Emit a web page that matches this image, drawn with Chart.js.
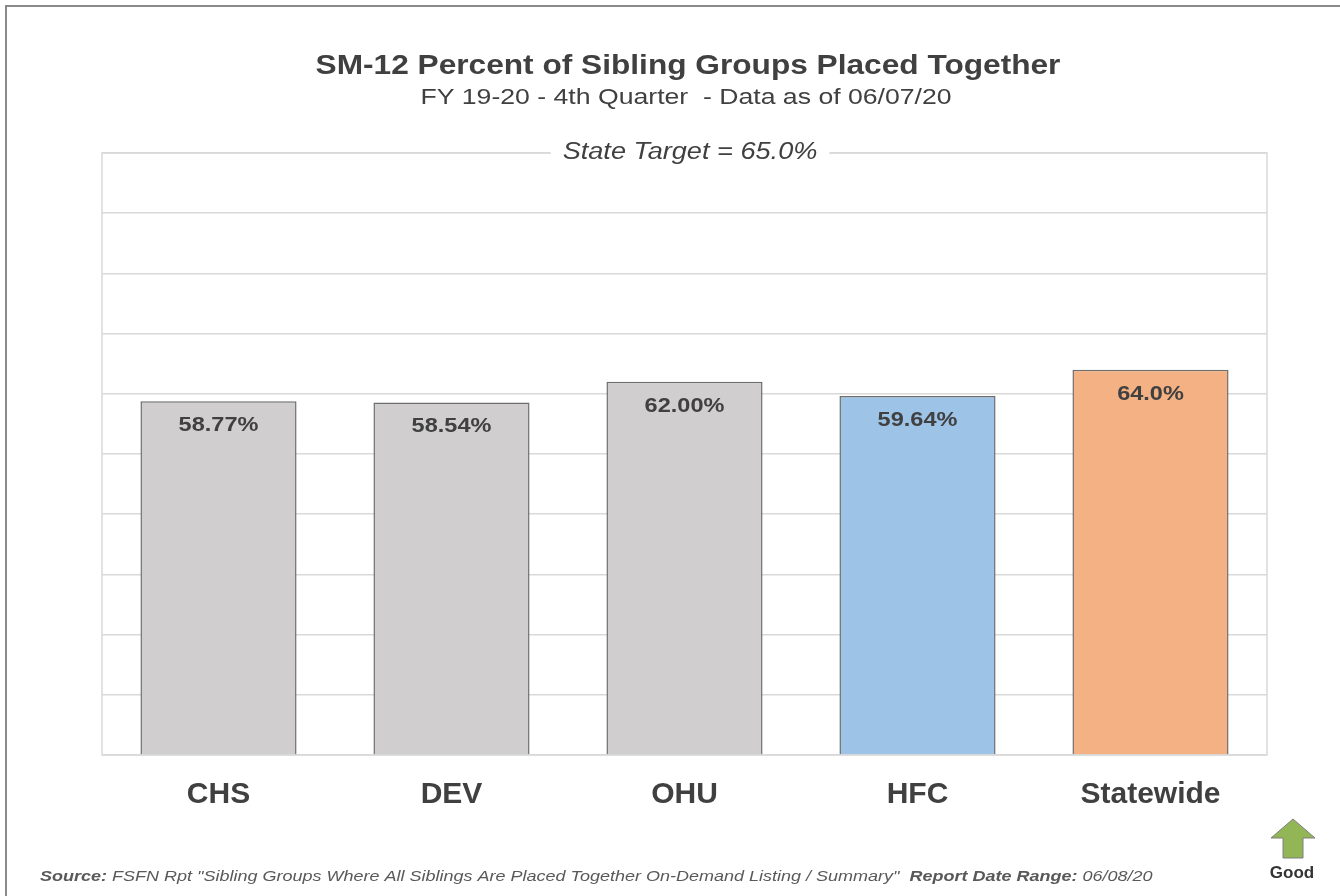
<!DOCTYPE html>
<html lang="en">
<head>
<meta charset="UTF-8">
<title>SM-12 Percent of Sibling Groups Placed Together</title>
<script src="https://cdn.jsdelivr.net/npm/chart.js"></script>
<style>
    html, body { margin: 0; padding: 0; background: #fff; }
    #wrap { position: relative; width: 1340px; height: 896px; }
    #frame { position: absolute; left: 5px; top: 5px; right: 0; bottom: 0;
             border-left: 2px solid #8a8a8a; border-top: 2px solid #8a8a8a; }
    canvas { position: absolute; left: 0; top: 0; }
</style>
</head>
<body>
<div id="wrap">
    <div id="frame"></div>
    <canvas id="smChart" width="1340" height="896"></canvas>
</div>
<script>
// data
var categories = ['CHS', 'DEV', 'OHU', 'HFC', 'Statewide'];
var percentValues = [58.77, 58.54, 62.00, 59.64, 64.0];
var valueLabels = ['58.77%', '58.54%', '62.00%', '59.64%', '64.0%'];
var barColors = ['#d0cece', '#d0cece', '#d0cece', '#9dc3e6', '#f4b183'];

var titleText = 'SM-12 Percent of Sibling Groups Placed Together';
var subtitleText = 'FY 19-20 - 4th Quarter  - Data as of 06/07/20';
var targetText = 'State Target = 65.0%';
var sourceParts = [
    ['Source:', true],
    [' FSFN Rpt "Sibling Groups Where All Siblings Are Placed Together On-Demand Listing / Summary"  ', false],
    ['Report Date Range:', true],
    [' 06/08/20', false]
];

var FONT = '"Liberation Sans", Arial, sans-serif';
var textColor = '#404040';

// text with a horizontal stretch, the original looks widened
function wideText(ctx, text, x, y, sx) {
    ctx.save();
    ctx.translate(x, y);
    ctx.scale(sx, 1);
    ctx.fillText(text, 0, 0);
    ctx.restore();
}

// draws titles, target label, plot frame, value labels, footer and arrow
var decorPlugin = {
    id: 'decor',
    beforeDatasetsDraw: function (chart) {
        var ctx = chart.ctx, a = chart.chartArea;
        ctx.save();
        ctx.strokeStyle = '#d9d9d9';
        ctx.lineWidth = 1.5;
        ctx.strokeRect(a.left, a.top, a.right - a.left, a.bottom - a.top);
        ctx.restore();
    },
    afterDatasetsDraw: function (chart) {
        var ctx = chart.ctx, a = chart.chartArea;
        ctx.save();
        ctx.textAlign = 'center';
        ctx.textBaseline = 'middle';
        ctx.fillStyle = textColor;

        ctx.font = 'bold 28px ' + FONT;
        wideText(ctx, titleText, 688, 66, 1.13);
        ctx.font = '22px ' + FONT;
        wideText(ctx, subtitleText, 686, 98, 1.21);

        // target label over top border
        ctx.font = 'italic 23px ' + FONT;
        var w = ctx.measureText(targetText).width * 1.18 + 24;
        ctx.fillStyle = '#fff';
        ctx.fillRect(690 - w / 2, a.top - 14, w, 28);
        ctx.fillStyle = textColor;
        wideText(ctx, targetText, 690, a.top, 1.18);

        // value labels inside bars
        ctx.font = 'bold 21px ' + FONT;
        chart.getDatasetMeta(0).data.forEach(function (bar, i) {
            wideText(ctx, valueLabels[i], bar.x, bar.y + 24, 1.12);
        });

        // footer
        ctx.textAlign = 'left';
        ctx.fillStyle = '#595959';
        var x = 40;
        sourceParts.forEach(function (p) {
            ctx.font = (p[1] ? 'italic bold ' : 'italic ') + '15px ' + FONT;
            wideText(ctx, p[0], x, 877, 1.2);
            x += ctx.measureText(p[0]).width * 1.2;
        });

        // good arrow
        ctx.beginPath();
        ctx.moveTo(1293, 819);
        ctx.lineTo(1315, 838);
        ctx.lineTo(1303, 838);
        ctx.lineTo(1303, 858);
        ctx.lineTo(1283, 858);
        ctx.lineTo(1283, 838);
        ctx.lineTo(1271, 838);
        ctx.closePath();
        ctx.fillStyle = '#92b656';
        ctx.fill();
        ctx.strokeStyle = '#7f7f7f';
        ctx.lineWidth = 1;
        ctx.stroke();
        ctx.textAlign = 'center';
        ctx.fillStyle = '#333';
        ctx.font = 'bold 17px ' + FONT;
        ctx.fillText('Good', 1292, 873);
        ctx.restore();
    }
};

var ctx = document.getElementById('smChart').getContext('2d');
var smChart = new Chart(ctx, {
    type: 'bar',
    data: {
        labels: categories,
        datasets: [{
            data: percentValues,
            backgroundColor: barColors,
            borderColor: '#6e6e6e',
            borderWidth: 1.5,
            categoryPercentage: 1,
            barPercentage: 0.67
        }]
    },
    options: {
        responsive: false,
        animation: false,
        devicePixelRatio: 1,
        layout: { padding: { left: 102, right: 73, top: 153, bottom: 0 } },
        plugins: {
            legend: { display: false },
            tooltip: { enabled: false }
        },
        scales: {
            x: {
                grid: { display: false },
                border: { display: false },
                ticks: {
                    color: textColor,
                    padding: 14,
                    font: { family: FONT, size: 30, weight: 'bold' }
                },
                afterFit: function (s) { s.height = 141; }
            },
            y: {
                min: 0,
                max: 100,
                ticks: { display: false, stepSize: 10 },
                border: { display: false },
                grid: { color: '#d9d9d9', lineWidth: 1.5, drawTicks: false },
                afterFit: function (s) { s.width = 0; }
            }
        }
    },
    plugins: [decorPlugin]
});
</script>
</body>
</html>
